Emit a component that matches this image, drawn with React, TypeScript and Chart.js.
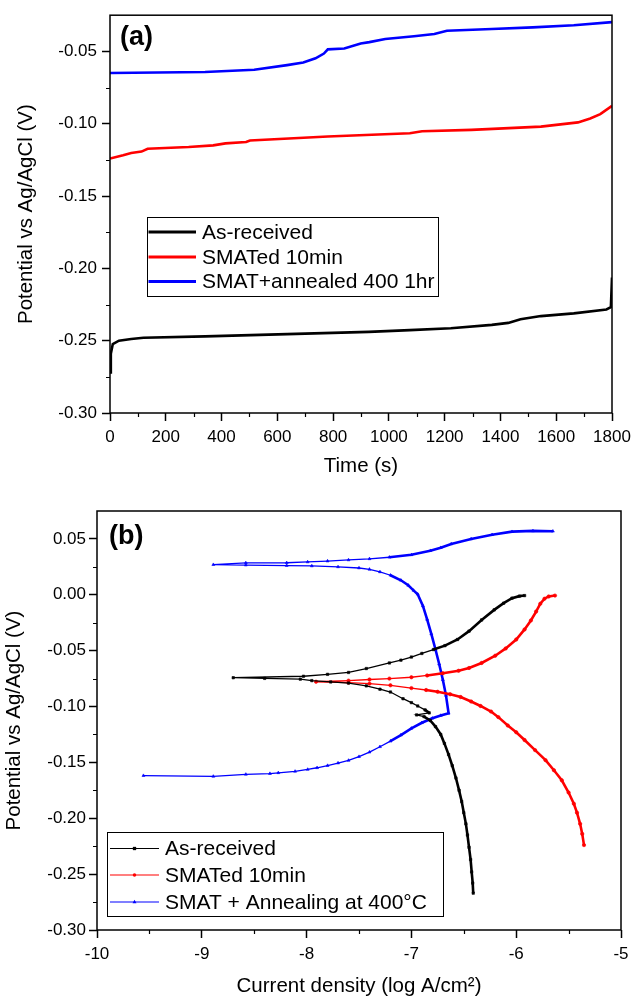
import React, { useEffect, useRef } from 'react';
import { Chart, registerables } from 'chart.js';

Chart.register(...registerables);

const FONT = '"Liberation Sans", Arial, Helvetica, sans-serif';

// ---------------- Panel (a): open circuit potential vs time ----------------
const A_LABELS = ['As-received', 'SMATed 10min', 'SMAT+annealed 400 1hr'];
const A_COLORS = ['#000000', '#ff0000', '#0000ff'];

const A_TIME_AS_RECEIVED = [0, 3, 10, 32, 76, 120, 341, 635, 928, 1075, 1222, 1369, 1428, 1472, 1545, 1663, 1780, 1796, 1800];
const A_POT_AS_RECEIVED = [-0.272, -0.259, -0.2523, -0.25, -0.2489, -0.248, -0.247, -0.2455, -0.2439, -0.2427, -0.2414, -0.2391, -0.2377, -0.2352, -0.233, -0.2311, -0.2284, -0.2268, -0.2064];

const A_TIME_SMAT = [0, 47, 76, 113, 135, 282, 370, 414, 488, 502, 781, 1075, 1119, 1296, 1545, 1678, 1722, 1758, 1800];
const A_POT_SMAT = [-0.1241, -0.1218, -0.1202, -0.1193, -0.1173, -0.1161, -0.115, -0.1136, -0.1127, -0.1116, -0.1089, -0.1066, -0.1052, -0.1043, -0.102, -0.0991, -0.0964, -0.0934, -0.0877];

const A_TIME_ANNEALED = [0, 341, 517, 635, 693, 737, 767, 781, 840, 899, 930, 987, 1090, 1163, 1208, 1369, 1516, 1663, 1800];
const A_POT_ANNEALED = [-0.065, -0.0643, -0.0627, -0.0595, -0.0577, -0.0548, -0.0515, -0.0486, -0.048, -0.0445, -0.0436, -0.0414, -0.0395, -0.038, -0.0357, -0.0345, -0.0334, -0.032, -0.0298];

const A_X_TICKS = [0, 200, 400, 600, 800, 1000, 1200, 1400, 1600, 1800];
const A_Y_TICKS = [-0.3, -0.25, -0.2, -0.15, -0.1, -0.05];
const A_Y_TICK_LABELS = ['-0.30', '-0.25', '-0.20', '-0.15', '-0.10', '-0.05'];

// ---------------- Panel (b): potentiodynamic polarization ----------------
const B_LABELS = ['As-received', 'SMATed 10min', 'SMAT + Annealing at 400°C'];
const B_COLORS = ['#000000', '#ff0000', '#0000ff'];
const B_MARKERS = ['rect', 'circle', 'triangle'];

const B_LOGI_AS_RECEIVED = [-6.41, -6.415, -6.425, -6.435, -6.45, -6.465, -6.48, -6.5, -6.52, -6.545, -6.575, -6.61, -6.645, -6.685, -6.72, -6.77, -6.82, -6.88, -6.95, -6.83, -6.87, -6.94, -7.0, -7.08, -7.2, -7.3, -7.43, -7.6, -7.77, -7.95, -8.06, -8.4, -8.7, -8.03, -7.8, -7.6, -7.43, -7.21, -7.1, -7.0, -6.9, -6.79, -6.68, -6.56, -6.45, -6.33, -6.21, -6.12, -6.04, -5.97, -5.92];
const B_POT_AS_RECEIVED = [-0.267, -0.258, -0.248, -0.237, -0.226, -0.215, -0.205, -0.195, -0.185, -0.175, -0.164, -0.153, -0.143, -0.133, -0.125, -0.118, -0.1125, -0.109, -0.1075, -0.1057, -0.103, -0.0995, -0.0965, -0.093, -0.087, -0.0845, -0.0815, -0.079, -0.078, -0.0768, -0.0755, -0.0748, -0.0742, -0.0729, -0.0712, -0.0695, -0.066, -0.061, -0.0585, -0.0557, -0.0525, -0.049, -0.0455, -0.04, -0.0325, -0.0225, -0.0135, -0.0075, -0.003, -0.0012, -0.0007];

const B_LOGI_SMAT = [-5.353, -5.37, -5.39, -5.42, -5.45, -5.5, -5.565, -5.64, -5.72, -5.82, -5.92, -6.0, -6.08, -6.17, -6.24, -6.34, -6.43, -6.53, -6.63, -6.75, -6.86, -7.0, -7.2, -7.4, -7.6, -7.91, -7.6, -7.4, -7.21, -7.0, -6.85, -6.7, -6.55, -6.45, -6.33, -6.2, -6.1, -6.0, -5.92, -5.86, -5.81, -5.77, -5.73, -5.69, -5.63];
const B_POT_SMAT = [-0.224, -0.214, -0.205, -0.195, -0.187, -0.177, -0.166, -0.157, -0.148, -0.139, -0.13, -0.123, -0.117, -0.1095, -0.1045, -0.0995, -0.0955, -0.0915, -0.089, -0.0868, -0.0852, -0.0835, -0.081, -0.0795, -0.0786, -0.0778, -0.0768, -0.0758, -0.075, -0.0738, -0.0722, -0.0702, -0.068, -0.0655, -0.061, -0.0545, -0.048, -0.04, -0.031, -0.023, -0.015, -0.008, -0.0035, -0.0015, -0.0007];

const B_LOGI_ANNEALED = [-9.557, -8.89, -8.58, -8.35, -8.27, -8.11, -7.99, -7.9, -7.8, -7.7, -7.6, -7.5, -7.4, -7.3, -7.2, -7.1, -7.0, -6.9, -6.8, -6.72, -6.645, -6.67, -6.7, -6.735, -6.77, -6.81, -6.85, -6.89, -6.94, -6.98, -7.03, -7.1, -7.2, -7.3, -7.4, -7.5, -7.7, -7.95, -8.19, -8.58, -8.89, -8.58, -8.19, -7.99, -7.8, -7.6, -7.4, -7.21, -7.0, -6.82, -6.72, -6.62, -6.43, -6.23, -6.04, -5.84, -5.65];
const B_POT_ANNEALED = [-0.1618, -0.1625, -0.1607, -0.16, -0.1593, -0.158, -0.1563, -0.1548, -0.1528, -0.1506, -0.1482, -0.1448, -0.1408, -0.136, -0.131, -0.1255, -0.1195, -0.1145, -0.1105, -0.108, -0.106, -0.09, -0.076, -0.062, -0.049, -0.035, -0.022, -0.01, 0.0005, 0.004, 0.0085, 0.013, 0.0175, 0.0205, 0.0228, 0.024, 0.025, 0.0258, 0.0262, 0.0266, 0.027, 0.0286, 0.0287, 0.0294, 0.0302, 0.0312, 0.0322, 0.0336, 0.0358, 0.0395, 0.0422, 0.0455, 0.05, 0.0538, 0.0565, 0.0572, 0.0569];

const B_X_TICKS = [-10, -9, -8, -7, -6, -5];
const B_Y_TICKS = [-0.3, -0.25, -0.2, -0.15, -0.1, -0.05, 0, 0.05];
const B_Y_TICK_LABELS = ['-0.30', '-0.25', '-0.20', '-0.15', '-0.10', '-0.05', '0.00', '0.05'];

// style: beyond this log-current the measured points are dense, so the trace looks heavier
const B_DENSE_FROM = [-6.9, -6.95, -7.25];

// ---------------- helpers / plugins ----------------
const toPoints = (xs: number[], ys: number[]) => xs.map((x, i) => ({ x, y: ys[i] }));

const framePlugin = {
  id: 'frame',
  afterDraw(chart: any, _args: any, opts: any) {
    const { ctx, chartArea, scales } = chart;
    const { left, right, top, bottom } = chartArea;
    ctx.save();
    ctx.strokeStyle = '#000';
    ctx.lineWidth = 1.5;
    ctx.strokeRect(left, top, right - left, bottom - top);
    ctx.lineWidth = 1.2;
    ctx.beginPath();
    const xt = scales.x.ticks.map((t: any) => t.value);
    for (let i = 0; i < xt.length - 1; i++) {
      const px = Math.round(scales.x.getPixelForValue((xt[i] + xt[i + 1]) / 2)) + 0.5;
      ctx.moveTo(px, bottom);
      ctx.lineTo(px, bottom + opts.minorLength);
    }
    const yt = scales.y.ticks.map((t: any) => t.value);
    for (let i = 0; i < yt.length - 1; i++) {
      const py = Math.round(scales.y.getPixelForValue((yt[i] + yt[i + 1]) / 2)) + 0.5;
      ctx.moveTo(left, py);
      ctx.lineTo(left - opts.minorLength, py);
    }
    ctx.stroke();
    ctx.restore();
  },
};

function drawMarker(ctx: CanvasRenderingContext2D, style: string, x: number, y: number, r: number) {
  ctx.beginPath();
  if (style === 'rect') {
    ctx.rect(x - r * 0.75, y - r * 0.75, r * 1.5, r * 1.5);
  } else if (style === 'triangle') {
    ctx.moveTo(x, y - r);
    ctx.lineTo(x + r * 0.9, y + r * 0.6);
    ctx.lineTo(x - r * 0.9, y + r * 0.6);
    ctx.closePath();
  } else {
    ctx.arc(x, y, r * 0.8, 0, Math.PI * 2);
  }
  ctx.fill();
}

const boxLegendPlugin = {
  id: 'boxLegend',
  afterDraw(chart: any, _args: any, o: any) {
    const ctx: CanvasRenderingContext2D = chart.ctx;
    ctx.save();
    ctx.fillStyle = '#fff';
    ctx.fillRect(o.box[0], o.box[1], o.box[2] - o.box[0], o.box[3] - o.box[1]);
    ctx.strokeStyle = '#000';
    ctx.lineWidth = 1;
    ctx.strokeRect(o.box[0] + 0.5, o.box[1] + 0.5, o.box[2] - o.box[0], o.box[3] - o.box[1]);
    ctx.font = `${o.fontSize}px ${FONT}`;
    ctx.textBaseline = 'middle';
    ctx.textAlign = 'left';
    chart.data.datasets.forEach((ds: any, i: number) => {
      const y = o.rowY[i];
      ctx.strokeStyle = ds.borderColor;
      ctx.lineWidth = o.lineWidth;
      ctx.beginPath();
      ctx.moveTo(o.lineX[0], y);
      ctx.lineTo(o.lineX[1], y);
      ctx.stroke();
      if (o.marker) {
        ctx.fillStyle = ds.borderColor;
        drawMarker(ctx, ds.pointStyle, (o.lineX[0] + o.lineX[1]) / 2, y, 2.2);
      }
      ctx.fillStyle = '#000';
      ctx.fillText(ds.label, o.textX, y + 1);
    });
    ctx.restore();
  },
};

const panelLabelPlugin = {
  id: 'panelLabel',
  afterDraw(chart: any, _args: any, o: any) {
    const ctx: CanvasRenderingContext2D = chart.ctx;
    ctx.save();
    ctx.font = `bold ${o.fontSize}px ${FONT}`;
    ctx.fillStyle = '#000';
    ctx.textAlign = 'left';
    ctx.textBaseline = 'middle';
    ctx.fillText(o.text, o.x, o.y);
    ctx.restore();
  },
};

function axisCommon(tickValues: number[], labels: string[] | null, fitSize: number, horizontal: boolean, padding: number) {
  return {
    type: 'linear' as const,
    afterBuildTicks: (s: any) => {
      s.ticks = tickValues.map((v) => ({ value: v }));
    },
    afterFit: (s: any) => {
      if (horizontal) s.height = fitSize;
      else s.width = fitSize;
    },
    grid: {
      display: true,
      drawOnChartArea: false,
      drawTicks: true,
      tickLength: 8,
      tickColor: '#000',
      tickWidth: 1.5,
      color: '#000',
    },
    border: { display: false },
    ticks: {
      color: '#000',
      font: { family: FONT, size: 17 },
      padding,
      autoSkip: false,
      maxRotation: 0,
      callback: (v: any, i: number) => (labels ? labels[i] : String(v)),
    },
  };
}

function useChart(ref: React.RefObject<HTMLCanvasElement>, makeConfig: () => any) {
  useEffect(() => {
    if (!ref.current) return;
    const chart = new Chart(ref.current, makeConfig());
    return () => chart.destroy();
  }, []);
}

function PanelA() {
  const ref = useRef<HTMLCanvasElement>(null);
  useChart(ref, () => ({
    type: 'line',
    data: {
      datasets: [
        { label: A_LABELS[0], data: toPoints(A_TIME_AS_RECEIVED, A_POT_AS_RECEIVED), borderColor: A_COLORS[0] },
        { label: A_LABELS[1], data: toPoints(A_TIME_SMAT, A_POT_SMAT), borderColor: A_COLORS[1] },
        { label: A_LABELS[2], data: toPoints(A_TIME_ANNEALED, A_POT_ANNEALED), borderColor: A_COLORS[2] },
      ].map((d) => ({ ...d, borderWidth: 2.6, pointRadius: 0, tension: 0, fill: false })),
    },
    options: {
      animation: false,
      responsive: false,
      devicePixelRatio: 1,
      layout: { padding: { left: 0, right: 27, top: 11, bottom: 0 } },
      plugins: {
        legend: { display: false },
        tooltip: { enabled: false },
        frame: { minorLength: 4 },
        boxLegend: {
          box: [147, 217, 438, 296],
          rowY: [232, 257, 281.5],
          lineX: [148.5, 196],
          lineWidth: 3,
          textX: 202,
          fontSize: 21,
          marker: false,
        },
        panelLabel: { text: '(a)', x: 120, y: 38, fontSize: 27 },
      },
      scales: {
        x: {
          ...axisCommon(A_X_TICKS, null, 77, true, 6),
          min: 0,
          max: 1800,
          title: { display: true, text: 'Time (s)', color: '#000', font: { family: FONT, size: 20.5 }, padding: { top: 0, bottom: 11 } },
        },
        y: {
          ...axisCommon(A_Y_TICKS, A_Y_TICK_LABELS, 110, false, 5),
          min: -0.3,
          max: -0.025,
          title: { display: true, text: 'Potential vs Ag/AgCl (V)', color: '#000', font: { family: FONT, size: 20.5 }, padding: { top: 14, bottom: 0 } },
        },
      },
    },
    plugins: [framePlugin, boxLegendPlugin, panelLabelPlugin],
  }));
  return <canvas ref={ref} width={639} height={490} style={{ position: 'absolute', left: 0, top: 0, width: 639, height: 490 }} />;
}

function PanelB() {
  const ref = useRef<HTMLCanvasElement>(null);
  useChart(ref, () => {
    const series = [
      [B_LOGI_AS_RECEIVED, B_POT_AS_RECEIVED],
      [B_LOGI_SMAT, B_POT_SMAT],
      [B_LOGI_ANNEALED, B_POT_ANNEALED],
    ];
    return {
      type: 'line',
      data: {
        datasets: series.map(([xs, ys], i) => ({
          data: toPoints(xs, ys),
          label: B_LABELS[i],
          borderColor: B_COLORS[i],
          backgroundColor: B_COLORS[i],
          pointBackgroundColor: B_COLORS[i],
          pointBorderColor: B_COLORS[i],
          pointStyle: B_MARKERS[i],
          pointRadius: 1.7,
          pointBorderWidth: 0.6,
          borderWidth: 1.3,
          segment: {
            borderWidth: (c: any) =>
              xs[c.p0DataIndex] > B_DENSE_FROM[i] && xs[c.p1DataIndex] > B_DENSE_FROM[i] ? 2.6 : 1.3,
          },
          tension: 0,
          fill: false,
        })),
      },
      options: {
        animation: false,
        responsive: false,
        devicePixelRatio: 1,
        layout: { padding: { left: 0, right: 18, top: 21, bottom: 0 } },
        plugins: {
          legend: { display: false },
          tooltip: { enabled: false },
          frame: { minorLength: 4 },
          boxLegend: {
            box: [107, 342, 443, 426],
            rowY: [358.5, 385, 412],
            lineX: [110, 159],
            lineWidth: 1.2,
            textX: 165,
            fontSize: 21,
            marker: true,
          },
          panelLabel: { text: '(b)', x: 109, y: 47, fontSize: 27 },
        },
        scales: {
          x: {
            ...axisCommon(B_X_TICKS, null, 69, true, 6),
            min: -10,
            max: -5,
            title: { display: true, text: 'Current density (log A/cm²)', color: '#000', font: { family: FONT, size: 20.5 }, padding: { top: 0, bottom: 0 } },
          },
          y: {
            ...axisCommon(B_Y_TICKS, B_Y_TICK_LABELS, 97, false, 3),
            min: -0.3,
            max: 0.075,
            title: { display: true, text: 'Potential vs Ag/AgCl (V)', color: '#000', font: { family: FONT, size: 20.5 }, padding: { top: 2, bottom: 0 } },
          },
        },
      },
      plugins: [framePlugin, boxLegendPlugin, panelLabelPlugin],
    };
  });
  return <canvas ref={ref} width={639} height={509} style={{ position: 'absolute', left: 0, top: 490, width: 639, height: 509 }} />;
}

export default function App() {
  return (
    <div style={{ position: 'absolute', left: 0, top: 0, width: 639, height: 999, background: '#fff', overflow: 'hidden' }}>
      <PanelA />
      <PanelB />
    </div>
  );
}
